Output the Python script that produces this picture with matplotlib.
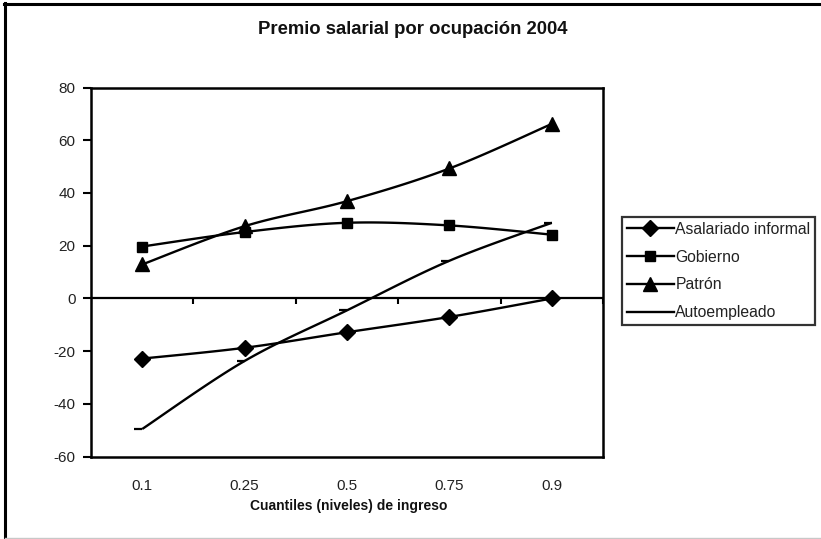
import numpy as np
import matplotlib
matplotlib.use("Agg")
import matplotlib.pyplot as plt
from matplotlib.path import Path
from matplotlib.lines import Line2D

plt.rcParams['font.family'] = ['Liberation Sans', 'DejaVu Sans']

# ---- data ----
categories = ["0.1", "0.25", "0.5", "0.75", "0.9"]
asalariado_informal = [-22.8, -18.7, -12.8, -7.0, 0.0]
gobierno = [19.7, 25.2, 28.7, 27.7, 24.2]
patron = [12.9, 27.4, 36.9, 49.3, 66.2]
autoempleado = [-49.5, -23.7, -4.5, 14.3, 28.7]
yticks = [-60, -40, -20, 0, 20, 40, 60, 80]

title = "Premio salarial por ocupación 2004"
xlabel = "Cuantiles (niveles) de ingreso"


def smooth(xs, ys, n=30):
    """Excel-like smoothed line: Bezier segments with Catmull-Rom control points."""
    P = np.column_stack([xs, ys]).astype(float)
    m = len(P)
    out = [P[0]]
    for i in range(m - 1):
        p0 = P[i - 1] if i > 0 else P[i]
        p1 = P[i]
        p2 = P[i + 1]
        p3 = P[i + 2] if i + 2 < m else P[i + 1]
        c1 = p1 + (p2 - p0) / 6.0
        c2 = p2 - (p3 - p1) / 6.0
        t = np.linspace(0, 1, n)[1:, None]
        seg = ((1 - t) ** 3) * p1 + 3 * ((1 - t) ** 2) * t * c1 + 3 * (1 - t) * t ** 2 * c2 + t ** 3 * p2
        out.extend(seg)
    out = np.array(out)
    return out[:, 0], out[:, 1]


fig = plt.figure(figsize=(8.21, 5.39), dpi=100)
ax = fig.add_axes([91 / 821, 1 - 456.7 / 539, (603 - 91) / 821, (456.7 - 87.5) / 539])

x = np.arange(len(categories))
lw = 1.7
series = [
    ("Asalariado informal", asalariado_informal, dict(marker='D', ms=8)),
    ("Gobierno", gobierno, dict(marker='s', ms=6.5)),
    ("Patrón", patron, dict(marker='^', ms=9.5)),
    ("Autoempleado", autoempleado, dict(marker=Path([(-1, 0), (0, 0)]), ms=12, mew=1.6)),
]

handles = []
for name, vals, mk in series:
    sx, sy = smooth(x, vals)
    ax.plot(sx, sy, color='black', lw=lw, zorder=3, solid_capstyle='butt')
    ax.plot(x, vals, linestyle='none', color='black', mfc='black', mec='black', zorder=4, **mk)
    handles.append(Line2D([], [], color='black', lw=lw, mfc='black', mec='black',
                          **({} if name == "Autoempleado" else mk)))

ax.set_xlim(-0.5, len(categories) - 0.5)
ax.set_ylim(-60, 80)
ax.set_yticks(yticks)
ax.set_yticklabels([str(v) for v in yticks])
ax.set_xticks(x)
ax.set_xticklabels(categories)
ax.tick_params(axis='x', length=0, pad=16, labelsize=11, labelcolor='#222222')
ax.tick_params(axis='y', length=6, width=1.5, direction='out', pad=5, labelsize=11, labelcolor='#222222')
for s in ax.spines.values():
    s.set_linewidth(1.8)
    s.set_color('black')

# zero line with category-separator ticks
ax.axhline(0, color='black', lw=1.6, zorder=2)
ax.vlines(np.arange(len(categories) + 1) - 0.5, -2.0, 0, color='black', lw=1.5, zorder=2)

# title and axis label
fig.text(413 / 821, 1 - 29 / 539, title, ha='center', va='center', fontsize=13.3, fontweight='bold', color='#111111')
fig.text(349 / 821, 1 - 506 / 539, xlabel, ha='center', va='center', fontsize=10, fontweight='bold', color='#111111')

# legend
leg = fig.legend(handles, [s[0] for s in series], loc='upper left',
                 bbox_to_anchor=(622 / 821, 1 - 217 / 539), bbox_transform=fig.transFigure,
                 prop={'size': 11.3}, frameon=True, fancybox=False, handlelength=3.0, handletextpad=0.1,
                 labelspacing=0.82, borderpad=0.3, borderaxespad=0, markerscale=1.0)
leg.get_frame().set_edgecolor('black')
leg.get_frame().set_linewidth(1.6)
for t in leg.get_texts():
    t.set_color('#222222')

# outer frame: black left and top, light gray bottom
fig.add_artist(Line2D([5 / 821, 5 / 821], [1 - 3 / 539, 1 - 537 / 539], transform=fig.transFigure,
                      color='black', lw=2.2))
fig.add_artist(Line2D([4 / 821, 1.0], [1 - 4 / 539, 1 - 4 / 539], transform=fig.transFigure,
                      color='black', lw=2.2))
fig.add_artist(Line2D([5 / 821, 1.0], [1 - 537.5 / 539, 1 - 537.5 / 539], transform=fig.transFigure,
                      color='#c8c8c8', lw=1.0))

fig.savefig('out.png', dpi=100)
